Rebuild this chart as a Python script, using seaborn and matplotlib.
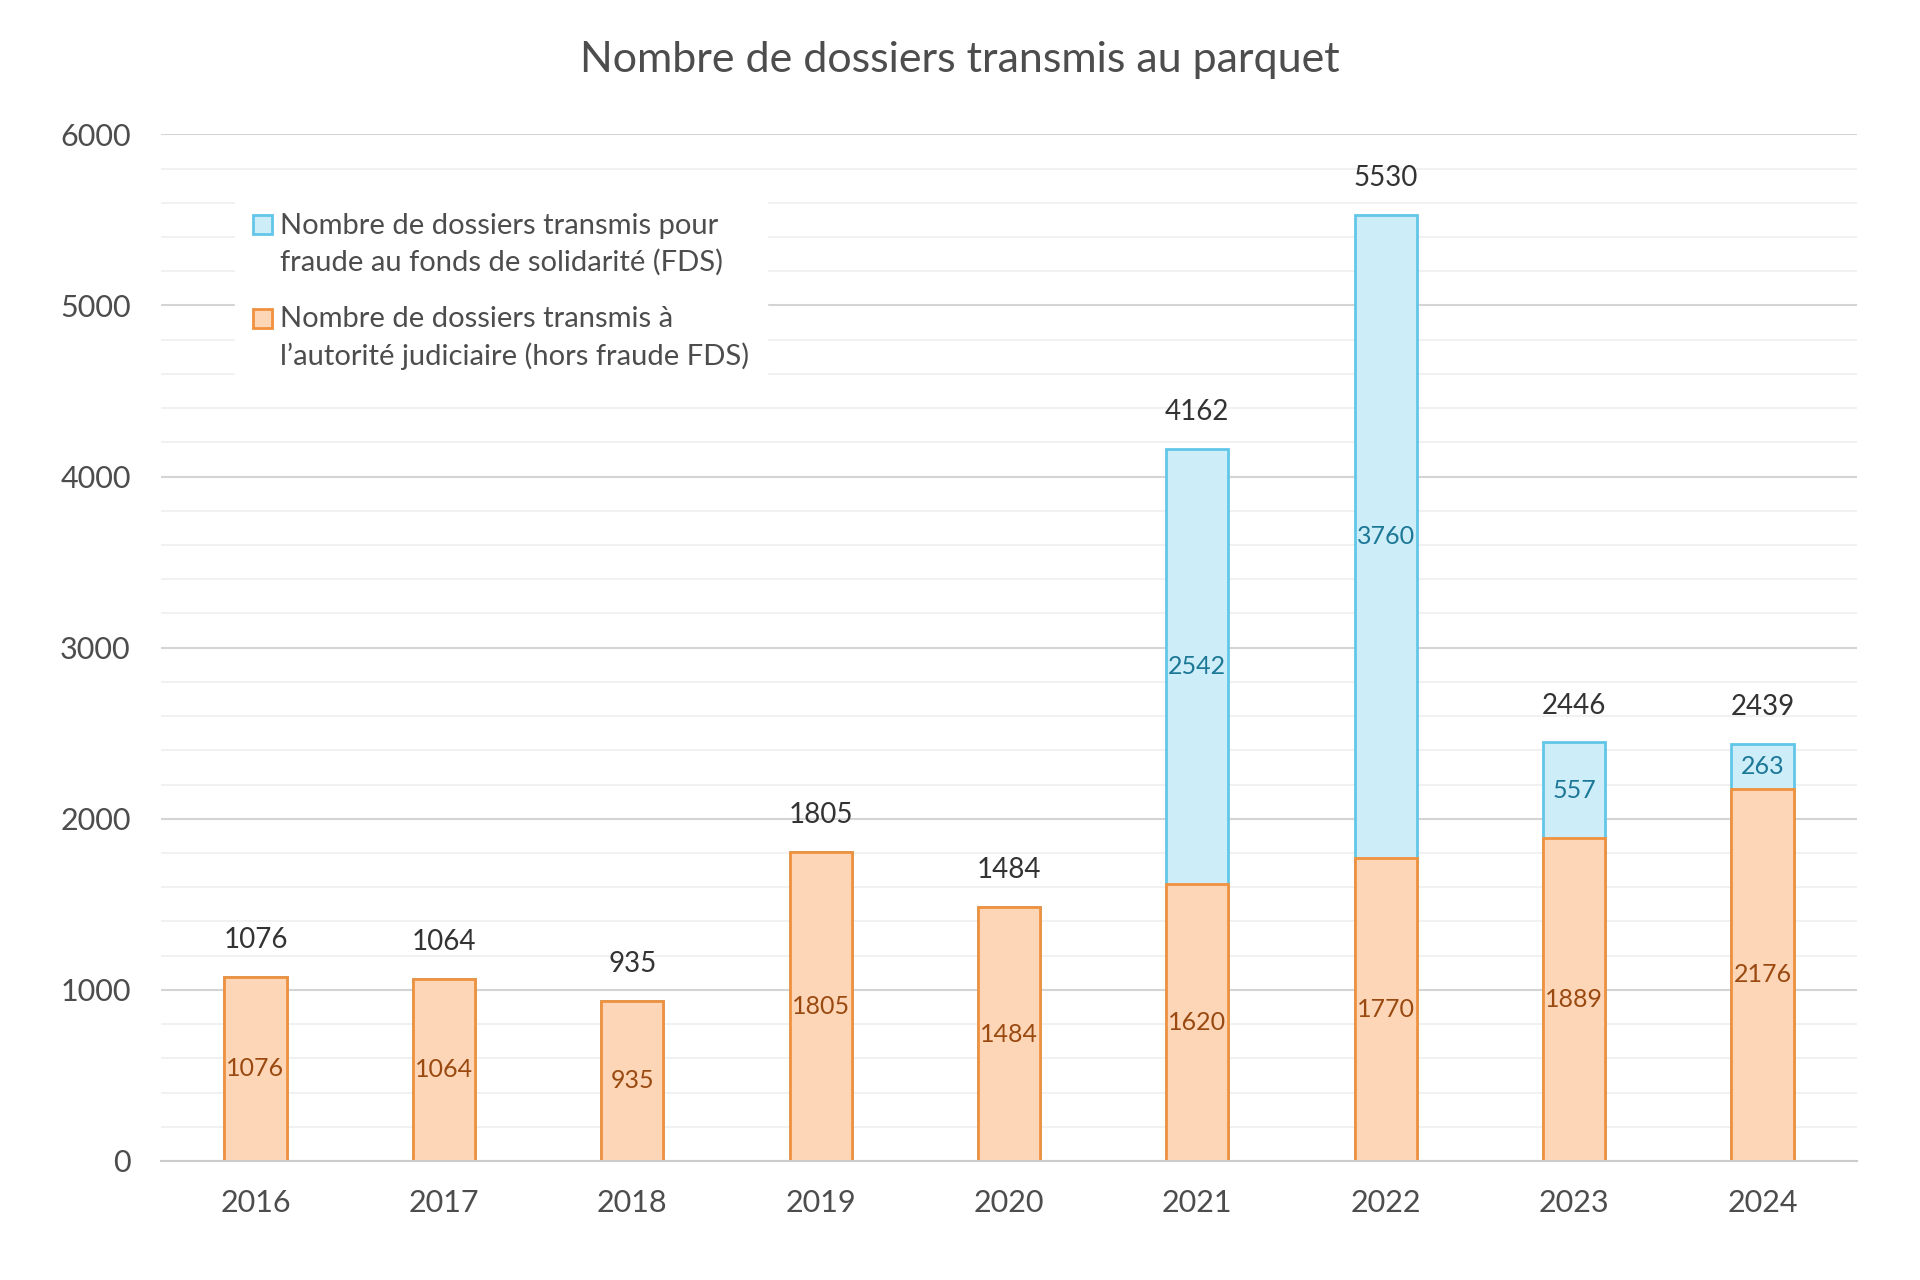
import numpy as np
import pandas as pd
import matplotlib
matplotlib.use("Agg")
import matplotlib.pyplot as plt
from matplotlib.patches import Patch, Rectangle
from matplotlib.legend_handler import HandlerPatch
from matplotlib.ticker import MultipleLocator
import seaborn as sns

years = ["2016", "2017", "2018", "2019", "2020", "2021", "2022", "2023", "2024"]
hors_fds = [1076, 1064, 935, 1805, 1484, 1620, 1770, 1889, 2176]
fds = [0, 0, 0, 0, 0, 2542, 3760, 557, 263]
totals = [1076, 1064, 935, 1805, 1484, 4162, 5530, 2446, 2439]

legend_labels = [
    "Nombre de dossiers transmis pour\nfraude au fonds de solidarité (FDS)",
    "Nombre de dossiers transmis à\nl\u2019autorité judiciaire (hors fraude FDS)",
]

orange_fill = "#FDD6B8"
orange_edge = "#F0913F"
blue_fill = "#CDEDF9"
blue_edge = "#62C6E8"
text_grey = "#4d4d4d"


class TopPatch(HandlerPatch):
    # put the legend square next to the first line of a two-line label
    def create_artists(self, legend, orig_handle, xdescent, ydescent,
                       width, height, fontsize, trans):
        p = Rectangle(xy=(-xdescent, -ydescent + 0.68 * fontsize), width=width, height=height)
        self.update_prop(p, orig_handle, legend)
        p.set_transform(trans)
        return [p]


sns.set_theme(style="white")
plt.rcParams["font.family"] = ["Lato", "DejaVu Sans"]

df = pd.DataFrame({"year": years, "hors_fds": hors_fds, "fds": fds, "total": totals})

fig = plt.figure(figsize=(19.2, 12.8), dpi=100)
ax = fig.add_axes([0.084, 0.093, 0.883, 0.802])

# blue = full stack, orange drawn over it
sns.barplot(data=df, x="year", y="total", color=blue_fill, saturation=1,
            width=0.33, edgecolor=blue_edge, linewidth=2, ax=ax)
sns.barplot(data=df, x="year", y="hors_fds", color=orange_fill, saturation=1,
            width=0.33, edgecolor=orange_edge, linewidth=2, ax=ax)

# labels
for i, (h, f, t) in enumerate(zip(hors_fds, fds, totals)):
    ax.text(i, t + 140, f"{t}", ha="center", va="bottom", fontsize=20, color="#333333")
    ax.text(i, h / 2, f"{h}", ha="center", va="center", fontsize=18, color="#9A4A10")
    if f > 0:
        ax.text(i, h + f / 2, f"{f}", ha="center", va="center", fontsize=18, color="#1C7896")

ax.set_ylim(0, 6000)
ax.set_xlim(-0.5, len(years) - 0.5)
ax.yaxis.set_major_locator(MultipleLocator(1000))
ax.yaxis.set_minor_locator(MultipleLocator(200))
ax.grid(axis="y", which="major", color="#d4d4d4", linewidth=1.5)
ax.grid(axis="y", which="minor", color="#efefef", linewidth=1.2)
ax.set_axisbelow(True)
for s in ["top", "right", "left"]:
    ax.spines[s].set_visible(False)
ax.spines["bottom"].set_color("#cccccc")
ax.spines["bottom"].set_linewidth(1.5)
ax.tick_params(axis="both", which="both", length=0, labelsize=22, labelcolor=text_grey)
ax.tick_params(axis="y", pad=22)
ax.tick_params(axis="x", pad=20)
ax.set_xlabel("")
ax.set_ylabel("")

handles = [
    Patch(facecolor=blue_fill, edgecolor=blue_edge, linewidth=2),
    Patch(facecolor=orange_fill, edgecolor=orange_edge, linewidth=2),
]
leg = ax.legend(handles, legend_labels, loc="upper left", bbox_to_anchor=(0.035, 0.955),
                frameon=True, fontsize=21, handlelength=0.65, handleheight=0.65,
                handletextpad=0.3, labelspacing=1.05, borderpad=0.6,
                handler_map={Patch: TopPatch()})
leg.get_frame().set_facecolor("white")
leg.get_frame().set_edgecolor("white")
leg.get_frame().set_alpha(1)
for txt in leg.get_texts():
    txt.set_color(text_grey)
    txt.set_linespacing(1.45)

fig.suptitle("Nombre de dossiers transmis au parquet", fontsize=31, color=text_grey, y=0.968)

fig.savefig("out.png", dpi=100, facecolor="white")
